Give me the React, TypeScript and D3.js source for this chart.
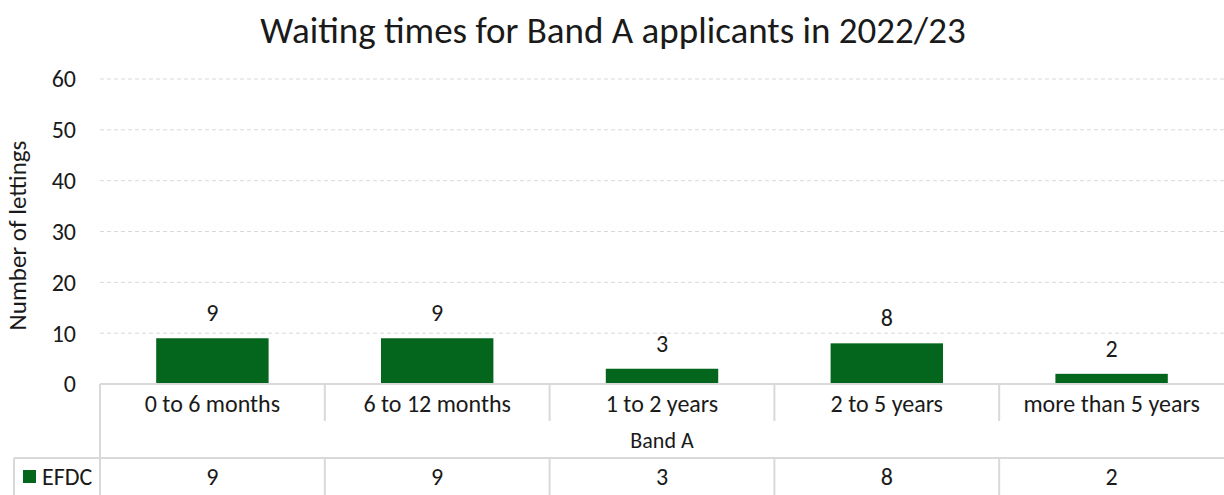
import * as d3 from 'd3';

const categories = ['0 to 6 months', '6 to 12 months', '1 to 2 years', '2 to 5 years', 'more than 5 years'];
const efdcValues = [9, 9, 3, 8, 2];
const yTicks = [0, 10, 20, 30, 40, 50, 60];
const groupLabel = 'Band A';
const seriesName = 'EFDC';

const WIDTH = 1224;
const HEIGHT = 495;
const FONT = "Calibri, Carlito, Lato, 'Liberation Sans', Arial, sans-serif";
const GREEN = '#03661c';
const GRID = '#d9d9d9';
const TEXT = '#1a1a1a';

export default function App() {
  const plot = { left: 100, right: 1224, top: 79, bottom: 384 };
  const x = d3.scaleBand<string>().domain(categories).range([plot.left, plot.right]).paddingInner(0.5).paddingOuter(0.25);
  const xCell = d3.scaleBand<string>().domain(categories).range([plot.left, plot.right]);
  const y = d3.scaleLinear().domain([0, 60]).range([plot.bottom, plot.top]);

  const catRowBottom = 421;
  const groupRowBottom = 458;
  const tableBottom = 495;

  return (
    <svg width={WIDTH} height={HEIGHT} style={{ position: 'absolute', left: 0, top: 0, background: '#fff' }} fontFamily={FONT}>
      <text x={613} y={43} textAnchor="middle" fontSize={37} fill={TEXT}>
        Waiting times for Band A applicants in 2022/23
      </text>

      {yTicks.map((t) => (
        <g key={t}>
          {t > 0 && (
            <line x1={plot.left} x2={plot.right} y1={y(t)} y2={y(t)} stroke={GRID} strokeWidth={1} strokeDasharray="4 3" />
          )}
          <text x={76} y={y(t)} dy="0.35em" textAnchor="end" fontSize={24} fill={TEXT}>
            {t}
          </text>
        </g>
      ))}

      <text transform={`translate(26,${(plot.top + plot.bottom) / 2 + 4}) rotate(-90)`} textAnchor="middle" fontSize={25} fill={TEXT}>
        Number of lettings
      </text>

      {categories.map((c, i) => (
        <g key={c}>
          <rect x={x(c)} y={y(efdcValues[i])} width={x.bandwidth()} height={y(0) - y(efdcValues[i])} fill={GREEN} />
          <text x={(x(c) ?? 0) + x.bandwidth() / 2} y={y(efdcValues[i]) - 17} textAnchor="middle" fontSize={24} fill={TEXT}>
            {efdcValues[i]}
          </text>
        </g>
      ))}

      {/* data table */}
      <line x1={plot.left} x2={plot.right} y1={plot.bottom} y2={plot.bottom} stroke={GRID} strokeWidth={2} />
      <line x1={14} x2={plot.right} y1={groupRowBottom} y2={groupRowBottom} stroke={GRID} strokeWidth={2} />
      <line x1={plot.left} x2={plot.left} y1={plot.bottom} y2={tableBottom} stroke={GRID} strokeWidth={2} />
      <line x1={14} x2={14} y1={groupRowBottom} y2={tableBottom} stroke={GRID} strokeWidth={2} />
      {categories.map((c, i) => {
        const cx = (xCell(c) ?? 0) + xCell.bandwidth() / 2;
        const right = (xCell(c) ?? 0) + xCell.bandwidth();
        return (
          <g key={`cell-${c}`}>
            {i < categories.length - 1 && (
              <>
                <line x1={right} x2={right} y1={plot.bottom} y2={catRowBottom} stroke={GRID} strokeWidth={2} />
                <line x1={right} x2={right} y1={groupRowBottom} y2={tableBottom} stroke={GRID} strokeWidth={2} />
              </>
            )}
            <text x={cx} y={(plot.bottom + catRowBottom) / 2 + 1} dy="0.35em" textAnchor="middle" fontSize={24} fill={TEXT}>
              {c}
            </text>
            <text x={cx} y={(groupRowBottom + tableBottom) / 2} dy="0.35em" textAnchor="middle" fontSize={24} fill={TEXT}>
              {efdcValues[i]}
            </text>
          </g>
        );
      })}
      <text x={(plot.left + plot.right) / 2} y={(catRowBottom + groupRowBottom) / 2 + 1} dy="0.35em" textAnchor="middle" fontSize={22} fill={TEXT}>
        {groupLabel}
      </text>
      <rect x={23} y={470} width={13} height={13} fill={GREEN} />
      <text x={42} y={477} dy="0.35em" fontSize={24} fill={TEXT}>
        {seriesName}
      </text>
    </svg>
  );
}
